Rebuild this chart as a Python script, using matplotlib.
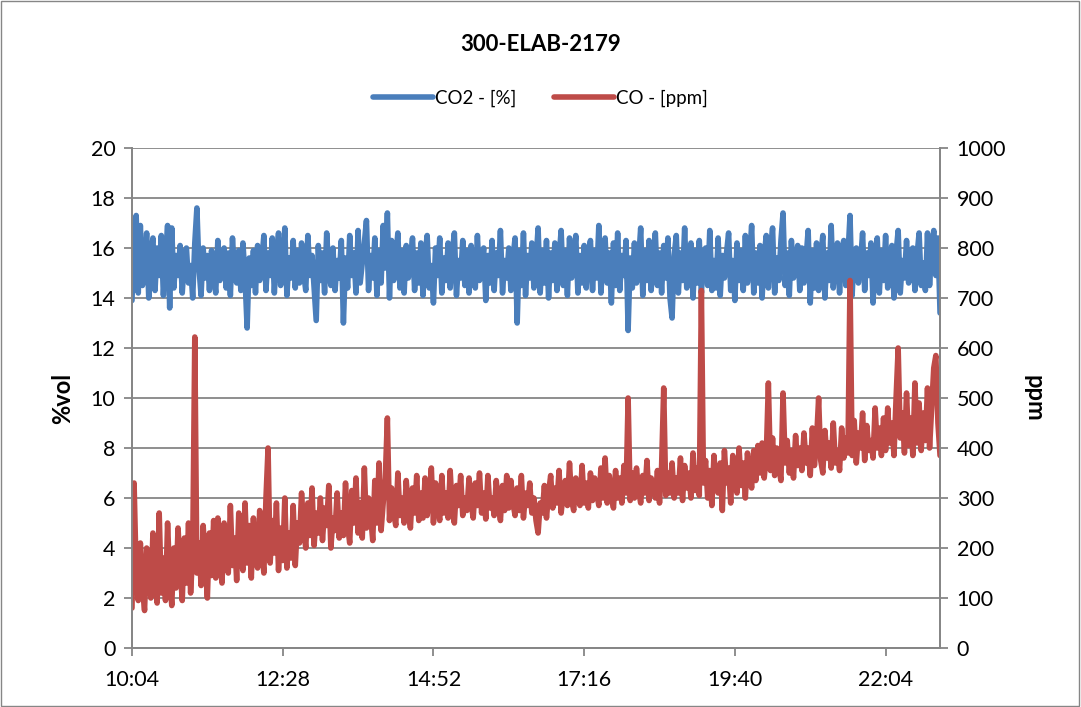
import matplotlib.pyplot as plt
import numpy as np
from matplotlib.patches import Rectangle

plt.rcParams['font.family'] = ['Lato', 'DejaVu Sans']

START = "10:04"
STEP_MIN = 2  # minutes between readings

CO2 = [13.9, 16.8, 17.3, 14.2, 16.9, 14.5, 15.2, 16.6, 14.0, 15.8, 16.4, 14.3, 16.0, 14.9, 16.5, 14.1, 15.6, 16.9, 13.6, 16.8,
       14.4, 15.7, 14.9, 16.1, 14.2, 15.5, 16.0, 14.6, 15.3, 14.0, 16.2, 17.6, 15.2, 14.1, 16.0, 14.8, 15.7, 14.3, 15.9, 15.0,
       14.2, 16.3, 14.7, 15.4, 16.0, 14.4, 15.8, 14.1, 16.4, 15.0, 14.6, 15.9, 14.3, 16.2, 14.8, 12.8, 15.6, 14.5, 15.9, 14.2,
       16.1, 14.7, 15.5, 16.5, 14.3, 15.8, 14.9, 16.4, 14.2, 15.7, 16.6, 14.5, 15.2, 16.8, 14.1, 15.6, 14.8, 16.3, 14.4, 15.9,
       14.6, 16.2, 15.0, 14.3, 16.5, 14.9, 15.7, 14.4, 13.1, 16.1, 14.7, 15.8, 14.2, 16.6, 15.1, 14.5, 16.0, 14.3, 15.5, 14.8,
       16.3, 13.0, 15.6, 14.4, 16.5, 14.9, 15.8, 14.2, 16.7, 14.6, 15.4, 16.2, 17.1, 14.3, 15.7, 14.8, 16.4, 14.1, 15.9, 14.6,
       16.9, 15.2, 17.4, 14.0, 16.3, 14.7, 15.6, 16.6, 14.4, 15.9, 14.2, 16.1, 14.8, 15.5, 16.4, 14.3, 15.8, 14.6, 16.2, 14.1,
       15.7, 16.5, 14.4, 15.3, 13.8, 16.0, 14.9, 16.4, 14.2, 15.6, 14.7, 16.2, 14.4, 15.8, 16.6, 14.1, 15.5, 14.8, 16.3, 14.5,
       15.9, 14.2, 16.1, 15.0, 14.4, 16.5, 14.7, 15.4, 16.0, 13.9, 15.7, 14.6, 16.3, 14.3, 15.8, 14.9, 16.7, 14.2, 15.5, 14.8,
       16.0, 14.3, 15.6, 16.4, 13.0, 15.9, 14.5, 16.6, 14.1, 15.7, 14.8, 16.2, 14.4, 15.5, 16.8, 14.2, 15.9, 14.6, 16.3, 14.0,
       15.8, 14.7, 16.2, 14.3, 15.6, 16.7, 14.5, 15.9, 14.1, 16.4, 14.8, 15.5, 16.5, 14.2, 15.7, 14.6, 16.1, 14.4, 15.8, 16.3,
       14.3, 15.9, 14.8, 16.9, 14.2, 15.6, 16.4, 14.6, 15.8, 13.8, 16.2, 14.5, 16.6, 14.3, 15.7, 14.9, 16.3, 12.7, 15.6, 14.4,
       16.2, 14.6, 15.5, 16.8, 14.1, 15.9, 14.7, 16.3, 14.3, 15.6, 16.6, 14.5, 15.8, 14.2, 16.1, 14.8, 16.4, 14.0, 13.2, 15.7,
       16.5, 14.2, 15.8, 14.7, 16.8, 14.4, 15.6, 16.2, 14.0, 15.9, 14.6, 16.3, 14.2, 15.7, 16.0, 14.5, 16.7, 14.3, 15.5, 14.4,
       16.4, 14.1, 15.7, 14.8, 15.8, 16.6, 14.3, 15.5, 13.9, 16.2, 14.7, 15.9, 14.3, 16.5, 14.6, 15.6, 16.9, 14.2, 15.8, 14.6,
       16.1, 14.0, 15.7, 16.5, 14.4, 15.9, 16.8, 14.2, 15.6, 14.7, 16.3, 17.4, 14.5, 15.8, 14.1, 16.3, 14.8, 15.5, 16.1, 14.3,
       16.0, 14.6, 15.6, 16.7, 13.8, 15.9, 14.4, 16.2, 14.3, 15.7, 16.5, 14.0, 15.8, 14.7, 16.9, 14.4, 15.5, 16.2, 14.2, 15.9,
       16.3, 14.5, 15.7, 17.3, 14.1, 15.9, 16.0, 14.6, 15.4, 16.6, 14.3, 15.8, 14.9, 16.2, 13.8, 15.6, 16.4, 14.2, 15.9, 14.7,
       16.5, 14.4, 15.6, 16.1, 14.0, 15.8, 16.7, 14.2, 15.5, 14.8, 16.3, 14.6, 15.9, 16.0, 14.3, 15.7, 16.6, 14.5, 15.4, 14.3,
       16.6, 14.5, 15.9, 16.7, 14.9, 16.4, 13.4]

CO = [80, 330, 150, 95, 210, 120, 75, 200, 140, 100, 230, 170, 90, 270, 110, 180, 95, 250, 140, 85,
      200, 120, 240, 160, 95, 220, 130, 250, 110, 190, 622, 150, 210, 125, 245, 170, 100, 230, 145, 255,
      140, 260, 175, 130, 250, 190, 150, 285, 165, 220, 135, 270, 180, 155, 290, 170, 245, 140, 260, 185,
      160, 275, 195, 150, 300, 400, 170, 255, 190, 290, 155, 240, 175, 300, 160, 230, 180, 285, 165, 250,
      210, 310, 240, 200, 290, 225, 320, 205, 270, 230, 300, 215, 280, 245, 325, 200, 260, 235, 310, 220,
      270, 225, 330, 245, 210, 315, 250, 340, 230, 290, 220, 360, 240, 300, 265, 215, 335, 250, 370, 235,
      290, 340, 460, 255, 320, 270, 245, 350, 265, 300, 250, 335, 280, 240, 320, 270, 345, 255, 310, 260,
      340, 265, 300, 360, 250, 330, 280, 255, 345, 270, 310, 260, 355, 275, 250, 325, 285, 345, 265, 300,
      275, 340, 290, 260, 330, 285, 350, 270, 310, 258, 345, 280, 300, 265, 335, 290, 255, 325, 275, 345,
      280, 335, 290, 265, 320, 275, 345, 260, 310, 285, 330, 270, 300, 255, 230, 290, 270, 325, 260, 310,
      345, 280, 320, 290, 355, 270, 310, 335, 285, 370, 295, 275, 340, 300, 285, 365, 290, 330, 280, 350,
      295, 340, 310, 285, 360, 300, 380, 290, 345, 305, 280, 355, 300, 340, 290, 365, 310, 500, 295, 350,
      300, 360, 315, 290, 345, 310, 375, 295, 340, 320, 300, 355, 290, 365, 520, 305, 350, 310, 370, 300,
      340, 310, 380, 295, 365, 320, 350, 300, 390, 315, 360, 305, 715, 330, 375, 300, 355, 285, 385, 320,
      310, 370, 275, 395, 330, 360, 290, 385, 340, 310, 400, 325, 370, 300, 390, 345, 320, 395, 335, 405,
      350, 410, 340, 385, 530, 355, 420, 345, 400, 360, 335, 510, 370, 415, 350, 395, 340, 425, 365, 400,
      355, 430, 370, 400, 345, 440, 365, 415, 500, 375, 350, 435, 380, 410, 360, 450, 370, 395, 355, 440,
      380, 420, 390, 735, 385, 455, 370, 430, 400, 470, 375, 445, 395, 415, 380, 480, 400, 440, 385, 460,
      395, 480, 410, 450, 385, 500, 600, 420, 470, 390, 510, 405, 460, 385, 530, 410, 490, 395, 470, 415,
      520, 400, 480, 560, 585, 450, 385]

TICK_LABELS = ["10:04", "12:28", "14:52", "17:16", "19:40", "22:04"]


def to_min(s):
    h, m = s.split(":")
    return int(h) * 60 + int(m)


minutes = np.arange(len(CO2)) * STEP_MIN
tick_pos = [to_min(t) - to_min(START) for t in TICK_LABELS]

BLUE = '#4A7EBB'
RED = '#BE4B48'
GREY = '#868686'

fig = plt.figure(figsize=(10.81, 7.07), dpi=100)
fig.patches.append(Rectangle((0.001, 0.002), 0.997, 0.996, transform=fig.transFigure,
                             fill=False, edgecolor=GREY, lw=1))

ax = fig.add_axes([0.1221, 0.0834, 0.7475, 0.7073])
ax2 = ax.twinx()

l1, = ax.plot(minutes, CO2, color=BLUE, lw=4.0, solid_joinstyle='round',
              solid_capstyle='round', label="CO2 - [%]")
l2, = ax2.plot(minutes, CO, color=RED, lw=4.0, solid_joinstyle='round',
               solid_capstyle='round', label="CO - [ppm]")

ax.set_xlim(0, minutes[-1])
ax.set_ylim(0, 20)
ax2.set_ylim(0, 1000)
ax.set_yticks(np.arange(0, 21, 2))
ax2.set_yticks(np.arange(0, 1001, 100))
ax.set_xticks(tick_pos)
ax.set_xticklabels(TICK_LABELS)
ax.yaxis.grid(True, color=GREY, lw=1.3)
ax.set_axisbelow(True)

for a in (ax, ax2):
    a.spines['top'].set_visible(False)
    for s in ('left', 'right', 'bottom'):
        a.spines[s].set_color(GREY)
        a.spines[s].set_linewidth(1.3)
    a.tick_params(colors=GREY, labelcolor='black', labelsize=15.5, length=6, width=1.3)
ax.tick_params(axis='x', pad=10)
ax.tick_params(axis='y', pad=6)
ax2.tick_params(axis='y', pad=6)

ax.set_ylabel("%vol", fontsize=17, fontweight='bold', labelpad=12)
ax2.set_ylabel("ppm", fontsize=17, fontweight='bold', rotation=270, labelpad=28)

fig.text(0.5, 0.937, "300-ELAB-2179", ha='center', va='center',
         fontsize=16, fontweight='bold')
fig.legend(handles=[l1, l2], loc='center', bbox_to_anchor=(0.5, 0.861), ncol=2,
           frameon=False, fontsize=13.5, handlelength=3.2, columnspacing=2.0,
           handletextpad=0.1)

fig.savefig("out.png", dpi=100)
